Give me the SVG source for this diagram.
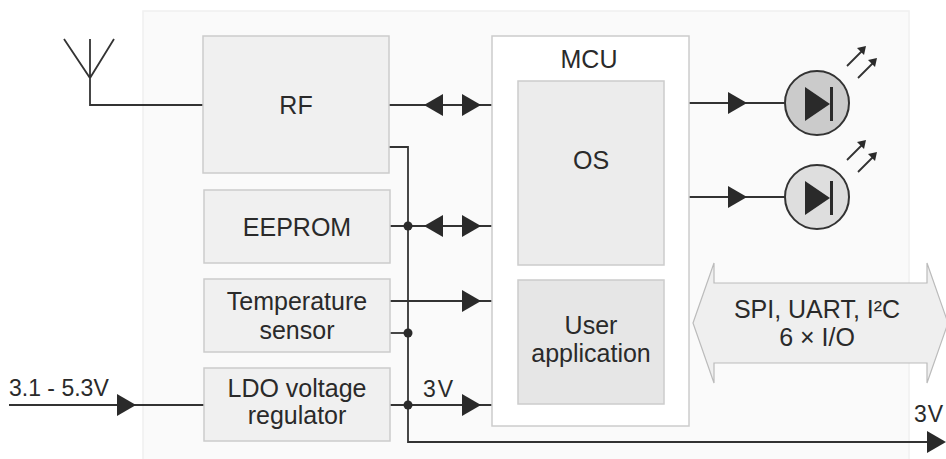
<svg xmlns="http://www.w3.org/2000/svg" xmlns:xlink="http://www.w3.org/1999/xlink" width="946" height="459" viewBox="0 0 946 459">
<style>
  text { font-family: "Liberation Sans", Arial, sans-serif; font-size: 25px; fill: #2a2a2a; text-anchor: middle; }
  .blk { fill: #f0f0f0; stroke: #cccccc; stroke-width: 1.5; }
  .wire { fill: none; stroke: #333333; stroke-width: 1.8; }
  .head { fill: #2a2a2a; }
  .dot { fill: #2a2a2a; }
  .lbl { text-anchor: start; font-size: 23px; }
</style>
<defs>
  <path id="ah" d="M0,0 L-19,-11 L-19,11 Z" class="head"/>
  <path id="rh" d="M0,0 L-9,2 L-2,9 Z" class="head"/>
</defs>
<rect x="143" y="11" width="766" height="460" fill="#fafafa" stroke="#f0f0f0" stroke-width="1.5"/>

<g id="connectors">
  <path class="wire" d="M64,39 L90,78 L114,39 M90,39 L90,105 L203,105"/>
  <path class="wire" d="M389,105 L492,105"/>
  <use xlink:href="#ah" transform="translate(424,105) rotate(180)"/>
  <use xlink:href="#ah" transform="translate(481,105)"/>
  <path class="wire" d="M389,147 L408,147 L408,442 L930,442"/>
  <use xlink:href="#ah" transform="translate(946,442)"/>
  <path class="wire" d="M390,226 L492,226"/>
  <use xlink:href="#ah" transform="translate(424,226) rotate(180)"/>
  <use xlink:href="#ah" transform="translate(481,226)"/>
  <circle class="dot" cx="408" cy="226" r="4.5"/>
  <path class="wire" d="M390,301 L492,301"/>
  <use xlink:href="#ah" transform="translate(481,301)"/>
  <path class="wire" d="M390,333 L408,333"/>
  <circle class="dot" cx="408" cy="333" r="4.5"/>
  <path class="wire" d="M390,405 L492,405"/>
  <use xlink:href="#ah" transform="translate(481,405)"/>
  <circle class="dot" cx="408" cy="405" r="4.5"/>
  <path class="wire" d="M9,405 L204,405"/>
  <use xlink:href="#ah" transform="translate(136,405)"/>
  <path class="wire" d="M689,103 L810,103"/>
  <use xlink:href="#ah" transform="translate(747,103)"/>
  <path class="wire" d="M689,197 L810,197"/>
  <use xlink:href="#ah" transform="translate(747,197)"/>
</g>

<g id="rf">
  <rect class="blk" x="203" y="36" width="186" height="137"/>
  <text x="296" y="114">RF</text>
</g>
<g id="eeprom">
  <rect class="blk" x="204" y="190" width="186" height="73"/>
  <text x="297" y="236">EEPROM</text>
</g>
<g id="temp">
  <rect class="blk" x="204" y="279" width="186" height="73"/>
  <text x="297" y="310">Temperature</text>
  <text x="297" y="339">sensor</text>
</g>
<g id="ldo">
  <rect class="blk" x="204" y="368" width="186" height="73"/>
  <text x="297" y="397">LDO voltage</text>
  <text x="297" y="424">regulator</text>
</g>
<g id="mcu">
  <rect x="492" y="36" width="197" height="390" fill="#ffffff" stroke="#cccccc" stroke-width="1.5"/>
  <text x="589" y="68">MCU</text>
</g>
<g id="os">
  <rect x="518" y="81" width="146" height="184" fill="#ececec" stroke="#cccccc" stroke-width="1.5"/>
  <text x="591" y="169">OS</text>
</g>
<g id="userapp">
  <rect x="518" y="280" width="146" height="124" fill="#e6e6e6" stroke="#cccccc" stroke-width="1.5"/>
  <text x="591" y="334">User</text>
  <text x="591" y="362">application</text>
</g>
<g id="led1">
  <circle cx="817" cy="103" r="32" fill="#cbcbcb" stroke="#333333" stroke-width="2"/>
  <path d="M805,87 L830,104 L805,121 Z" class="head"/>
  <rect x="830" y="87" width="3" height="34" fill="#2a2a2a"/>
  <path class="wire" d="M847,66 L862,51 M858,78 L873,63" stroke-width="2"/>
  <use xlink:href="#rh" transform="translate(866,46)"/>
  <use xlink:href="#rh" transform="translate(877,58)"/>
</g>
<g id="led2">
  <circle cx="817" cy="197" r="32" fill="#dedede" stroke="#333333" stroke-width="2"/>
  <path d="M805,181 L830,198 L805,215 Z" class="head"/>
  <rect x="830" y="181" width="3" height="34" fill="#2a2a2a"/>
  <path class="wire" d="M847,160 L862,145 M858,172 L873,157" stroke-width="2"/>
  <use xlink:href="#rh" transform="translate(866,140)"/>
  <use xlink:href="#rh" transform="translate(877,152)"/>
</g>
<g id="bus">
  <path d="M693,323 L714,263 L714,283 L927,283 L927,263 L948,323 L927,383 L927,363 L714,363 L714,383 Z" fill="#efefef" stroke="#bbbbbb" stroke-width="1.2"/>
  <text x="817" y="318">SPI, UART, I²C</text>
  <text x="817" y="346">6 × I/O</text>
</g>
<g id="labels">
  <text class="lbl" x="9" y="396">3.1 - 5.3V</text>
  <text class="lbl" x="423" y="397" letter-spacing="2">3V</text>
  <text class="lbl" x="914" y="422" letter-spacing="1">3V</text>
</g>
</svg>
